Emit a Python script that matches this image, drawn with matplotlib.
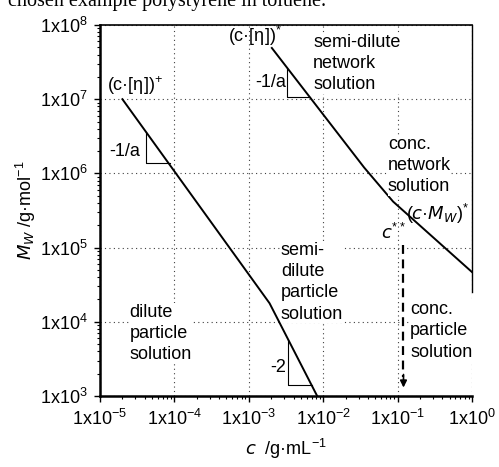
import numpy as np
import matplotlib
matplotlib.use("Agg")
import matplotlib.pyplot as plt
from matplotlib.ticker import LogLocator, FuncFormatter, NullFormatter

plt.rcParams['font.family'] = ['Liberation Sans', 'DejaVu Sans']
plt.rcParams['mathtext.default'] = 'regular'

# boundary lines (c in g/mL, Mw in g/mol)
dilute_c = [2.0e-5, 1.9e-3, 8.3e-3]
dilute_M = [1.0e7, 1.78e4, 1.0e3]
network_c = [2.04e-3, 3.55e-2, 8.7e-2, 1.0]
network_M = [4.9e7, 1.2e6, 4.17e5, 4.68e4]

# slope triangles: (c_corner, M_top, M_bottom, c_right)
triangles = [
    (4.15e-5, 3.61e6, 1.38e6, 8.73e-5),
    (3.37e-3, 5.69e3, 1.41e3, 7.06e-3),
    (3.26e-3, 2.63e7, 1.07e7, 6.65e-3),
]
tri_labels = ['-1/a', '-2', '-1/a']
tri_label_pos = [(3.5e-5, 2.0e6), (3.2e-3, 2.4e3), (3.15e-3, 1.7e7)]

# c** marker
c_star2 = 0.12
c_star2_M = [1.08e5, 1.3e3]

regions = ['semi-dilute\nnetwork\nsolution', 'conc.\nnetwork\nsolution',
           'dilute\nparticle\nsolution', 'semi-\ndilute\nparticle\nsolution',
           'conc.\nparticle\nsolution']
region_pos = [(7.3e-3, 7.6e7), (0.074, 3.2e6), (2.5e-5, 1.75e4),
              (2.7e-3, 1.2e5), (0.147, 1.9e4)]

FS = 13

fig = plt.figure(figsize=(4.99, 4.67), dpi=100)
ax = fig.add_axes([0.2004, 0.152, 0.7455, 0.7945])
ax.set_xscale('log')
ax.set_yscale('log')
ax.set_xlim(1e-5, 1.0)
ax.set_ylim(1e3, 1e8)

ax.grid(True, which='major', color='0.25', linestyle=(0, (1, 3)), linewidth=0.8)

ax.plot(dilute_c, dilute_M, color='k', lw=1.4)
ax.plot(network_c, network_M, color='k', lw=1.4)

for (cx, mt, mb, cr), lab, (lx, ly) in zip(triangles, tri_labels, tri_label_pos):
    ax.plot([cx, cx, cr], [mt, mb, mb], color='k', lw=0.8)
    ax.text(lx, ly, lab, ha='right', va='center', fontsize=FS)

ax.plot([c_star2, c_star2], [c_star2_M[0], c_star2_M[1] * 1.4], color='k',
        lw=1.6, linestyle=(0, (4, 2.5)))
ax.annotate('', xy=(c_star2, c_star2_M[1]), xytext=(c_star2, c_star2_M[1] * 1.5),
            arrowprops=dict(arrowstyle='-|>', color='k', lw=1.2,
                            mutation_scale=10, shrinkA=0, shrinkB=0))
ax.text(0.13, 1.15e5, r'$\mathit{c}^{**}$', ha='right', va='bottom', fontsize=FS)

for lab, (x, y) in zip(regions, region_pos):
    ax.text(x, y, lab, ha='left', va='top', fontsize=FS, linespacing=1.33,
            bbox=dict(facecolor='white', edgecolor='none', pad=0.3))

ax.text(1.25e-5, 1.07e7, '(c·[η])$^{+}$', ha='left', va='bottom', fontsize=FS)
ax.text(5.2e-4, 4.9e7, '(c·[η])$^{*}$', ha='left', va='bottom', fontsize=FS)
ax.text(0.93, 1.95e5, r'($\mathit{c}$·$\mathit{M_W}$)$^{*}$', ha='right',
        va='bottom', fontsize=FS)

ax.xaxis.set_major_locator(LogLocator(base=10, numticks=10))
ax.yaxis.set_major_locator(LogLocator(base=10, numticks=10))
ax.xaxis.set_minor_locator(LogLocator(base=10, subs=np.arange(2, 10), numticks=20))
ax.yaxis.set_minor_locator(LogLocator(base=10, subs=np.arange(2, 10), numticks=20))
fmt = FuncFormatter(lambda v, p: '1x10$^{%d}$' % int(round(np.log10(v))))
ax.xaxis.set_major_formatter(fmt)
ax.yaxis.set_major_formatter(fmt)
ax.xaxis.set_minor_formatter(NullFormatter())
ax.yaxis.set_minor_formatter(NullFormatter())
ax.tick_params(which='major', direction='out', length=4, width=1, labelsize=FS, pad=5)
ax.tick_params(which='minor', direction='out', length=2, width=0.8)

for s in ['left', 'bottom']:
    ax.spines[s].set_linewidth(1.8)
ax.spines['top'].set_linewidth(1.2)
ax.spines['right'].set_linewidth(1.0)
ax.spines['right'].set_bounds(2.5e4, 1e8)

ax.set_xlabel(r'$\mathit{c}$  /g·mL$^{-1}$', fontsize=FS, labelpad=6)
ax.set_ylabel(r'$\mathit{M_W}$ /g·mol$^{-1}$', fontsize=FS, labelpad=1)

fig.text(0.016, 1 - 6 / 467, 'chosen example polystyrene in toluene.',
         family='Liberation Serif', fontsize=14.5, ha='left', va='baseline')

fig.savefig('out.png', dpi=100)
